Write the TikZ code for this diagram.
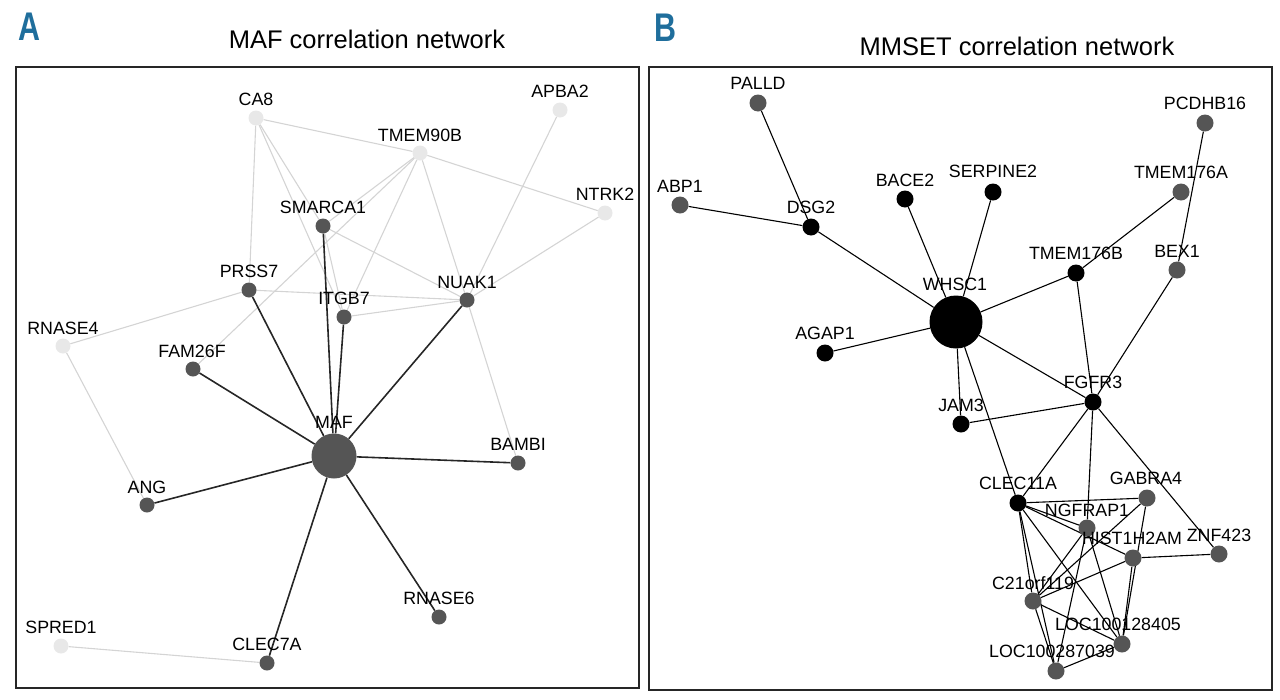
\documentclass[tikz,border=0pt]{standalone}
\usepackage{fontspec}
\setmainfont{Liberation Sans}
\newfontfamily\panelfont[FakeStretch=0.76]{Liberation Sans Bold}
\definecolor{panelblue}{HTML}{1F6E9C}
\definecolor{darknode}{HTML}{555555}
\definecolor{lightnode}{HTML}{E8E8E8}
\definecolor{lightedge}{HTML}{D4D4D4}
\pgfdeclarelayer{bg}
\pgfsetlayers{bg,main}
\tikzset{
  ldk/.style={circle,fill=darknode,minimum size=15pt,inner sep=0pt},
  llt/.style={circle,fill=lightnode,minimum size=15pt,inner sep=0pt},
  hubl/.style={circle,fill=darknode,minimum size=45pt,inner sep=0pt},
  rbk/.style={circle,fill=black,minimum size=17pt,inner sep=0pt},
  rgy/.style={circle,fill=darknode,minimum size=17pt,inner sep=0pt},
  hubr/.style={circle,fill=black,minimum size=53pt,inner sep=0pt},
  lbl/.style={inner sep=0pt,font=\fontsize{17.8}{17.8}\selectfont},
  ttl/.style={inner sep=0pt,font=\fontsize{25.5}{25.5}\selectfont},
  pnl/.style={inner sep=0pt,text=panelblue,font=\panelfont\fontsize{40}{40}\selectfont},
  ge/.style={draw=lightedge,line width=1.1pt},
  be/.style={draw=black!85,line width=1.6pt},
  re/.style={draw=black,line width=1.1pt},
  box/.style={draw=black!85,line width=1.6pt}
}
\begin{document}
\begin{tikzpicture}[x=1pt,y=-1pt]
\useasboundingbox (0,0) rectangle (1280,699);
% panel letters and titles
\node[pnl] (letA) at (29,27) {A};
\node[pnl] (letB) at (665,28) {B};
\node[ttl] (titA) at (367,39) {MAF correlation network};
\node[ttl] (titB) at (1017,46) {MMSET correlation network};
\draw[box] (16,67) rectangle (639,688);
\draw[box] (649,67) rectangle (1272,690);

% ---------------- Panel A ----------------
\node[llt] (ca8) at (256,118) {};
\node[llt] (apba2) at (560,110) {};
\node[llt] (tmem90b) at (420,153) {};
\node[llt] (ntrk2) at (605,213) {};
\node[ldk] (smarca1) at (323,226) {};
\node[ldk] (prss7) at (249,290) {};
\node[ldk] (itgb7) at (344,317) {};
\node[ldk] (nuak1) at (467,300) {};
\node[llt] (rnase4) at (63,346) {};
\node[ldk] (fam26f) at (193,369) {};
\node[hubl] (maf) at (334,456) {};
\node[ldk] (bambi) at (518,463) {};
\node[ldk] (ang) at (147,505) {};
\node[ldk] (rnase6) at (439,617) {};
\node[llt] (spred1) at (61,646) {};
\node[ldk] (clec7a) at (267,663) {};

\node[lbl] (ca8-l) at (256,99) {CA8};
\node[lbl] (apba2-l) at (560,91) {APBA2};
\node[lbl] (tmem90b-l) at (420,135) {TMEM90B};
\node[lbl] (ntrk2-l) at (605,194) {NTRK2};
\node[lbl] (smarca1-l) at (323,207) {SMARCA1};
\node[lbl] (prss7-l) at (249,271) {PRSS7};
\node[lbl] (itgb7-l) at (344,298) {ITGB7};
\node[lbl] (nuak1-l) at (467,282) {NUAK1};
\node[lbl] (rnase4-l) at (63,328) {RNASE4};
\node[lbl] (fam26f-l) at (192,351) {FAM26F};
\node[lbl] (maf-l) at (334,422) {MAF};
\node[lbl] (bambi-l) at (518,444) {BAMBI};
\node[lbl] (ang-l) at (147,487) {ANG};
\node[lbl] (rnase6-l) at (439,598) {RNASE6};
\node[lbl] (spred1-l) at (61,627) {SPRED1};
\node[lbl] (clec7a-l) at (267,644) {CLEC7A};

\begin{pgfonlayer}{bg}
\draw[ge] (ca8) -- (tmem90b);
\draw[ge] (ca8) -- (prss7);
\draw[ge] (ca8) -- (smarca1);
\draw[ge] (ca8) -- (itgb7);
\draw[ge] (tmem90b) -- (ntrk2);
\draw[ge] (tmem90b) -- (smarca1);
\draw[ge] (tmem90b) -- (fam26f);
\draw[ge] (tmem90b) -- (itgb7);
\draw[ge] (tmem90b) -- (nuak1);
\draw[ge] (apba2) -- (nuak1);
\draw[ge] (ntrk2) -- (nuak1);
\draw[ge] (smarca1) -- (nuak1);
\draw[ge] (smarca1) -- (itgb7);
\draw[ge] (prss7) -- (nuak1);
\draw[ge] (itgb7) -- (nuak1);
\draw[ge] (prss7) -- (rnase4);
\draw[ge] (rnase4) -- (ang);
\draw[ge] (nuak1) -- (bambi);
\draw[ge] (spred1) -- (clec7a);
\draw[be] (prss7) -- (maf);
\draw[be] (smarca1) -- (maf);
\draw[be] (itgb7) -- (maf);
\draw[be] (nuak1) -- (maf);
\draw[be] (fam26f) -- (maf);
\draw[be] (ang) -- (maf);
\draw[be] (bambi) -- (maf);
\draw[be] (rnase6) -- (maf);
\draw[be] (clec7a) -- (maf);
\end{pgfonlayer}

% ---------------- Panel B ----------------
\node[rgy] (palld) at (758,103) {};
\node[rgy] (pcdhb16) at (1205,123) {};
\node[rgy] (abp1) at (680,205) {};
\node[rbk] (dsg2) at (811,227) {};
\node[rbk] (bace2) at (905,199) {};
\node[rbk] (serpine2) at (993,192) {};
\node[rgy] (tmem176a) at (1181,192) {};
\node[rbk] (tmem176b) at (1076,273) {};
\node[rgy] (bex1) at (1177,270) {};
\node[hubr] (whsc1) at (956,322) {};
\node[rbk] (agap1) at (825,353) {};
\node[rbk] (fgfr3) at (1093,402) {};
\node[rbk] (jam3) at (961,424) {};
\node[rbk] (clec11a) at (1018,503) {};
\node[rgy] (gabra4) at (1147,498) {};
\node[rgy] (ngfrap1) at (1087,528) {};
\node[rgy] (hist) at (1133,558) {};
\node[rgy] (znf423) at (1219,554) {};
\node[rgy] (c21) at (1033,601) {};
\node[rgy] (loca) at (1122,644) {};
\node[rgy] (locb) at (1056,671) {};

\node[lbl] (palld-l) at (758,83) {PALLD};
\node[lbl] (pcdhb16-l) at (1205,103) {PCDHB16};
\node[lbl] (abp1-l) at (680,186) {ABP1};
\node[lbl] (dsg2-l) at (811,207) {DSG2};
\node[lbl] (bace2-l) at (905,180) {BACE2};
\node[lbl] (serpine2-l) at (993,171) {SERPINE2};
\node[lbl] (tmem176a-l) at (1181,172) {TMEM176A};
\node[lbl] (tmem176b-l) at (1076,253) {TMEM176B};
\node[lbl] (bex1-l) at (1177,251) {BEX1};
\node[lbl] (whsc1-l) at (955,284) {WHSC1};
\node[lbl] (agap1-l) at (825,333) {AGAP1};
\node[lbl] (fgfr3-l) at (1093,382) {FGFR3};
\node[lbl] (jam3-l) at (961,405) {JAM3};
\node[lbl] (clec11a-l) at (1018,483) {CLEC11A};
\node[lbl] (gabra4-l) at (1146,478) {GABRA4};
\node[lbl] (ngfrap1-l) at (1087,510) {NGFRAP1};
\node[lbl] (hist-l) at (1132,538) {HIST1H2AM};
\node[lbl] (znf423-l) at (1219,535) {ZNF423};
\node[lbl] (c21-l) at (1033,583) {C21orf119};
\node[lbl] (loca-l) at (1118,624) {LOC100128405};
\node[lbl] (locb-l) at (1052,651) {LOC100287039};

\begin{pgfonlayer}{bg}
\draw[re] (palld) -- (dsg2);
\draw[re] (abp1) -- (dsg2);
\draw[re] (dsg2) -- (whsc1);
\draw[re] (bace2) -- (whsc1);
\draw[re] (serpine2) -- (whsc1);
\draw[re] (agap1) -- (whsc1);
\draw[re] (whsc1) -- (tmem176b);
\draw[re] (tmem176b) -- (tmem176a);
\draw[re] (pcdhb16) -- (bex1);
\draw[re] (tmem176b) -- (fgfr3);
\draw[re] (bex1) -- (fgfr3);
\draw[re] (whsc1) -- (fgfr3);
\draw[re] (whsc1) -- (jam3);
\draw[re] (whsc1) -- (clec11a);
\draw[re] (jam3) -- (fgfr3);
\draw[re] (fgfr3) -- (clec11a);
\draw[re] (fgfr3) -- (ngfrap1);
\draw[re] (fgfr3) -- (znf423);
\draw[re] (clec11a) -- (gabra4);
\draw[re] (clec11a) -- (ngfrap1);
\draw[re] (clec11a) -- (hist);
\draw[re] (clec11a) -- (c21);
\draw[re] (clec11a) -- (locb);
\draw[re] (clec11a) -- (loca);
\draw[re] (gabra4) -- (c21);
\draw[re] (gabra4) -- (loca);
\draw[re] (ngfrap1) -- (c21);
\draw[re] (ngfrap1) -- (locb);
\draw[re] (ngfrap1) -- (loca);
\draw[re] (hist) -- (znf423);
\draw[re] (hist) -- (c21);
\draw[re] (hist) -- (loca);
\draw[re] (c21) -- (loca);
\draw[re] (c21) -- (locb);
\draw[re] (locb) -- (loca);
\end{pgfonlayer}
\end{tikzpicture}
\end{document}
